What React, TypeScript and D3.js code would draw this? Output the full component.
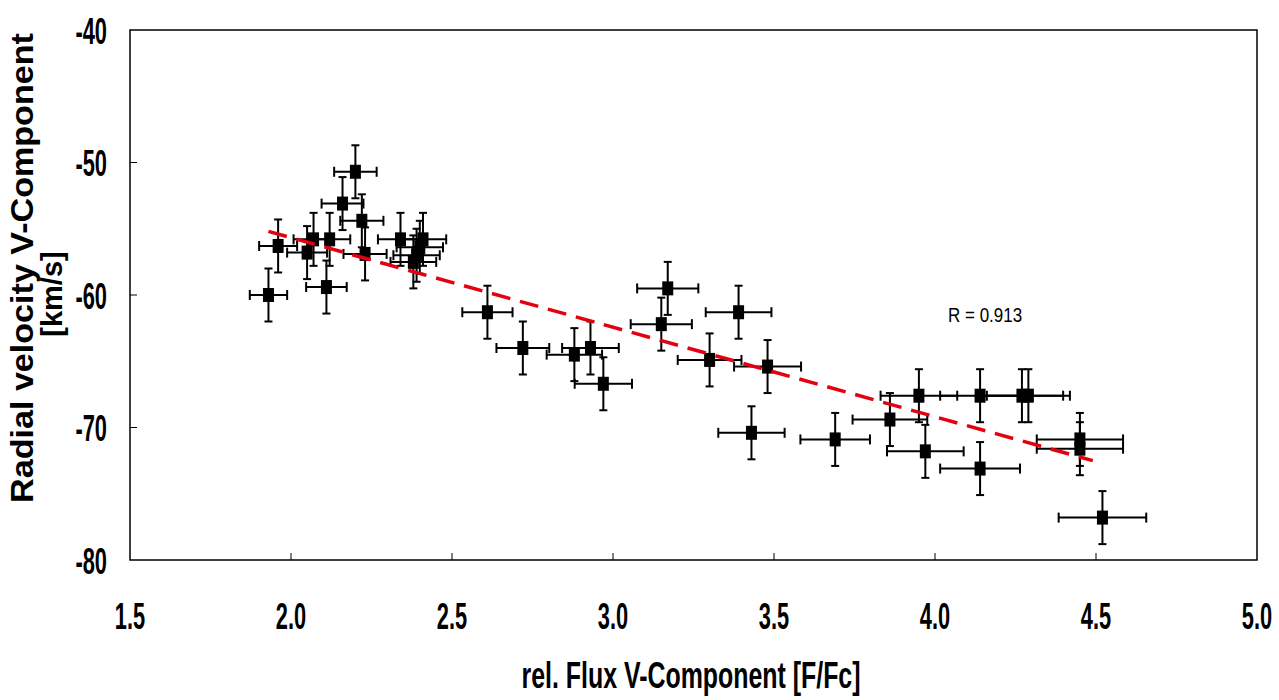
import React, { useRef, useEffect } from 'react';
import * as d3 from 'd3';

// values
const flux = [1.93, 1.96, 2.05, 2.07, 2.12, 2.11, 2.16, 2.20, 2.22, 2.23, 2.34, 2.41, 2.40, 2.39, 2.38,
  2.61, 2.72, 2.88, 2.93, 2.97, 3.17, 3.15, 3.39, 3.30, 3.48, 3.43, 3.69,
  3.95, 4.14, 4.27, 4.29, 3.86, 3.97, 4.14, 4.45, 4.45, 4.52];
const velocity = [-60.0, -56.3, -56.8, -55.8, -55.8, -59.4, -53.1, -50.7, -54.4, -56.9, -55.8, -55.8, -56.4, -57.0, -57.5,
  -61.3, -64.0, -64.5, -64.0, -66.7, -59.5, -62.2, -61.3, -64.9, -65.4, -70.4, -70.9,
  -67.6, -67.6, -67.6, -67.6, -69.4, -71.8, -73.1, -70.9, -71.6, -76.8];
const fluxErr = [0.058, 0.059, 0.062, 0.062, 0.064, 0.063, 0.065, 0.066, 0.067, 0.067, 0.070, 0.072, 0.072, 0.072, 0.071,
  0.078, 0.082, 0.086, 0.088, 0.089, 0.095, 0.095, 0.102, 0.099, 0.104, 0.103, 0.108,
  0.119, 0.124, 0.128, 0.129, 0.116, 0.119, 0.124, 0.134, 0.134, 0.136];
const velocityErr = [2, 2, 2, 2, 2, 2, 2, 2, 2, 2, 2, 2, 2, 2, 2,
  2, 2, 2, 2, 2, 2, 2, 2, 2, 2, 2, 2,
  2, 2, 2, 2, 2, 2, 2, 2, 2, 2];

// linear fit as drawn
const trendX = [1.93, 4.49];
const trendY = [-55.2, -72.5];

const xTicks = [1.5, 2.0, 2.5, 3.0, 3.5, 4.0, 4.5, 5.0];
const yTicks = [-40, -50, -60, -70, -80];
const corrLabel = 'R = 0.913';

const App = () => {
  const ref = useRef(null);

  useEffect(() => {
    const width = 1279;
    const height = 700;
    const left = 130, right = 1257, top = 30, bottom = 560;

    d3.select(ref.current).selectAll('*').remove();
    const svg = d3.select(ref.current)
      .append('svg')
      .attr('width', width)
      .attr('height', height)
      .style('position', 'absolute')
      .style('left', 0)
      .style('top', 0)
      .style('background', '#fff');

    const x = d3.scaleLinear().domain([1.5, 5.0]).range([left, right]);
    const y = d3.scaleLinear().domain([-80, -40]).range([bottom, top]);

    const font = "'Liberation Sans', Arial, sans-serif";

    // frame
    svg.append('rect')
      .attr('x', left).attr('y', top)
      .attr('width', right - left).attr('height', bottom - top)
      .attr('fill', 'none').attr('stroke', '#000').attr('stroke-width', 1.5);

    // inside ticks
    svg.selectAll('.xt').data(xTicks.slice(1, -1)).enter().append('line')
      .attr('x1', d => x(d)).attr('x2', d => x(d))
      .attr('y1', bottom).attr('y2', bottom - 7)
      .attr('stroke', '#000').attr('stroke-width', 1);
    svg.selectAll('.yt').data(yTicks.slice(1, -1)).enter().append('line')
      .attr('x1', left).attr('x2', left + 7)
      .attr('y1', d => y(d)).attr('y2', d => y(d))
      .attr('stroke', '#000').attr('stroke-width', 1);

    // tick labels (tall condensed bold)
    svg.selectAll('.xl').data(xTicks).enter().append('text')
      .attr('transform', d => `translate(${x(d)},629) scale(0.78,1.35)`)
      .attr('text-anchor', 'middle')
      .attr('font-family', font).attr('font-weight', 'bold').attr('font-size', 28)
      .text(d => d.toFixed(1));
    svg.selectAll('.yl').data(yTicks).enter().append('text')
      .attr('transform', d => `translate(107,${y(d) + 13.5}) scale(0.78,1.35)`)
      .attr('text-anchor', 'end')
      .attr('font-family', font).attr('font-weight', 'bold').attr('font-size', 28)
      .text(d => d);

    // axis titles
    svg.append('text')
      .attr('transform', 'translate(691,688) scale(0.89,1.35)')
      .attr('text-anchor', 'middle')
      .attr('font-family', font).attr('font-weight', 'bold').attr('font-size', 28)
      .text('rel. Flux V-Component [F/Fc]');
    svg.append('text')
      .attr('transform', 'translate(33,268) rotate(-90) scale(1.1,1)')
      .attr('text-anchor', 'middle')
      .attr('font-family', font)
      .attr('font-weight', 'bold').attr('font-size', 31)
      .text('Radial velocity V-Component');
    svg.append('text')
      .attr('transform', 'translate(62,294) rotate(-90)')
      .attr('text-anchor', 'middle')
      .attr('font-family', font)
      .attr('font-weight', 'bold').attr('font-size', 29)
      .text('[km/s]');

    // error bars
    const pts = flux.map((f, i) => ({ f, v: velocity[i], ef: fluxErr[i], ev: velocityErr[i] }));
    const g = svg.append('g').attr('stroke', '#000').attr('stroke-width', 2);
    pts.forEach(d => {
      const cx = x(d.f), cy = y(d.v);
      const x0 = x(d.f - d.ef), x1 = x(d.f + d.ef);
      const y0 = y(d.v + d.ev), y1 = y(d.v - d.ev);
      g.append('line').attr('x1', x0).attr('x2', x1).attr('y1', cy).attr('y2', cy);
      g.append('line').attr('x1', x0).attr('x2', x0).attr('y1', cy - 5).attr('y2', cy + 5);
      g.append('line').attr('x1', x1).attr('x2', x1).attr('y1', cy - 5).attr('y2', cy + 5);
      g.append('line').attr('x1', cx).attr('x2', cx).attr('y1', y0).attr('y2', y1);
      g.append('line').attr('x1', cx - 4).attr('x2', cx + 4).attr('y1', y0).attr('y2', y0);
      g.append('line').attr('x1', cx - 4).attr('x2', cx + 4).attr('y1', y1).attr('y2', y1);
    });

    // markers
    svg.selectAll('.pt').data(pts).enter().append('rect')
      .attr('x', d => x(d.f) - 5.5).attr('y', d => y(d.v) - 7)
      .attr('width', 11).attr('height', 14)
      .attr('fill', '#000');

    // trend line
    const line = d3.line().x(d => x(d[0])).y(d => y(d[1]));
    svg.append('path')
      .attr('d', line(trendX.map((t, i) => [t, trendY[i]])))
      .attr('fill', 'none')
      .attr('stroke', '#e3000f')
      .attr('stroke-width', 3.5)
      .attr('stroke-dasharray', '19 10');

    svg.append('text')
      .attr('transform', 'translate(948,322) scale(0.85,1)')
      .attr('font-family', font).attr('font-size', 20)
      .text(corrLabel);
  }, []);

  return <div ref={ref}></div>;
};

export default App;
